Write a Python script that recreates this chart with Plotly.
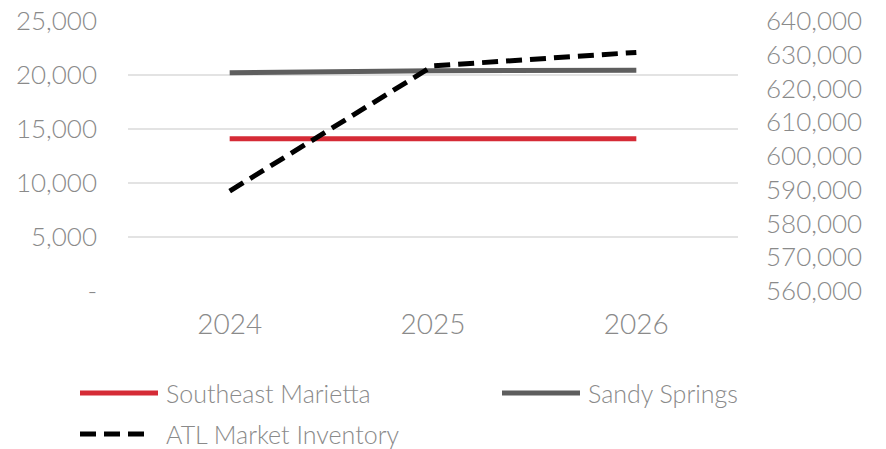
import plotly.graph_objects as go

# Series data
years = ["2024", "2025", "2026"]
southeast_marietta = [14100, 14100, 14100]
sandy_springs = [20200, 20400, 20450]
atl_inventory = [589600, 626700, 630700]

left_ticks = [0, 5000, 10000, 15000, 20000, 25000]
left_ticktext = ["-", "5,000", "10,000", "15,000", "20,000", "25,000"]
right_ticks = [560000, 570000, 580000, 590000, 600000, 610000, 620000, 630000, 640000]
right_ticktext = ["{:,}".format(v) for v in right_ticks]

RED = "#d52b36"
GRAY = "#5e5e5e"
BLACK = "#000000"
TEXT = "#8a8a8a"
FONT = "Lato"
WEIGHT = 300

fig = go.Figure()
fig.add_trace(go.Scatter(x=years, y=southeast_marietta, name="Southeast Marietta",
                         mode="lines", line=dict(color=RED, width=5)))
fig.add_trace(go.Scatter(x=years, y=sandy_springs, name="Sandy Springs",
                         mode="lines", line=dict(color=GRAY, width=5)))
fig.add_trace(go.Scatter(x=years, y=atl_inventory, name="ATL Market Inventory",
                         mode="lines", yaxis="y2",
                         line=dict(color=BLACK, width=5, dash="16px,8px")))

fig.update_layout(
    width=886, height=449,
    margin=dict(l=128, r=148, t=21, b=158),
    paper_bgcolor="white", plot_bgcolor="white",
    showlegend=False,
    font=dict(family=FONT, color=TEXT, size=22, weight=WEIGHT),
    xaxis=dict(type="category", range=[-0.5, 2.5], showgrid=False, zeroline=False,
               showline=False, ticks="",
               tickfont=dict(size=28, color=TEXT, weight=WEIGHT),
               ticklabelstandoff=14, automargin=False),
    yaxis=dict(range=[0, 25000], tickvals=left_ticks, ticktext=left_ticktext,
               showgrid=True, gridcolor="#e3e3e3", gridwidth=2, zeroline=False,
               showline=False, ticks="",
               tickfont=dict(size=26, color=TEXT, weight=WEIGHT),
               ticklabelstandoff=30, automargin=False),
    yaxis2=dict(range=[560000, 640000], tickvals=right_ticks, ticktext=right_ticktext,
                overlaying="y", side="right", showgrid=False, zeroline=False,
                showline=False, ticks="",
                tickfont=dict(size=26, color=TEXT, weight=WEIGHT),
                ticklabelstandoff=27, automargin=False),
)

# Legend drawn below the plot with long sample lines
legend_items = [
    ("Southeast Marietta", RED, "solid", 80, 158, 165, 393),
    ("Sandy Springs", GRAY, "solid", 502, 580, 587, 393),
    ("ATL Market Inventory", BLACK, "16px,8px", 80, 152, 165, 434),
]
pw, ph, x0, y0 = 610, 270, 128, 291
for label, color, dash, lx0, lx1, tx, ty in legend_items:
    yy = (y0 - ty) / ph
    fig.add_shape(type="line", xref="paper", yref="paper",
                  x0=(lx0 - x0) / pw, x1=(lx1 - x0) / pw, y0=yy, y1=yy,
                  line=dict(color=color, width=5, dash=dash))
    fig.add_annotation(xref="paper", yref="paper", x=(tx - x0) / pw, y=yy,
                       text=label, showarrow=False, xanchor="left", yanchor="middle",
                       borderpad=0,
                       font=dict(family=FONT, size=25, color=TEXT, weight=WEIGHT))

fig.write_html("out.html")
